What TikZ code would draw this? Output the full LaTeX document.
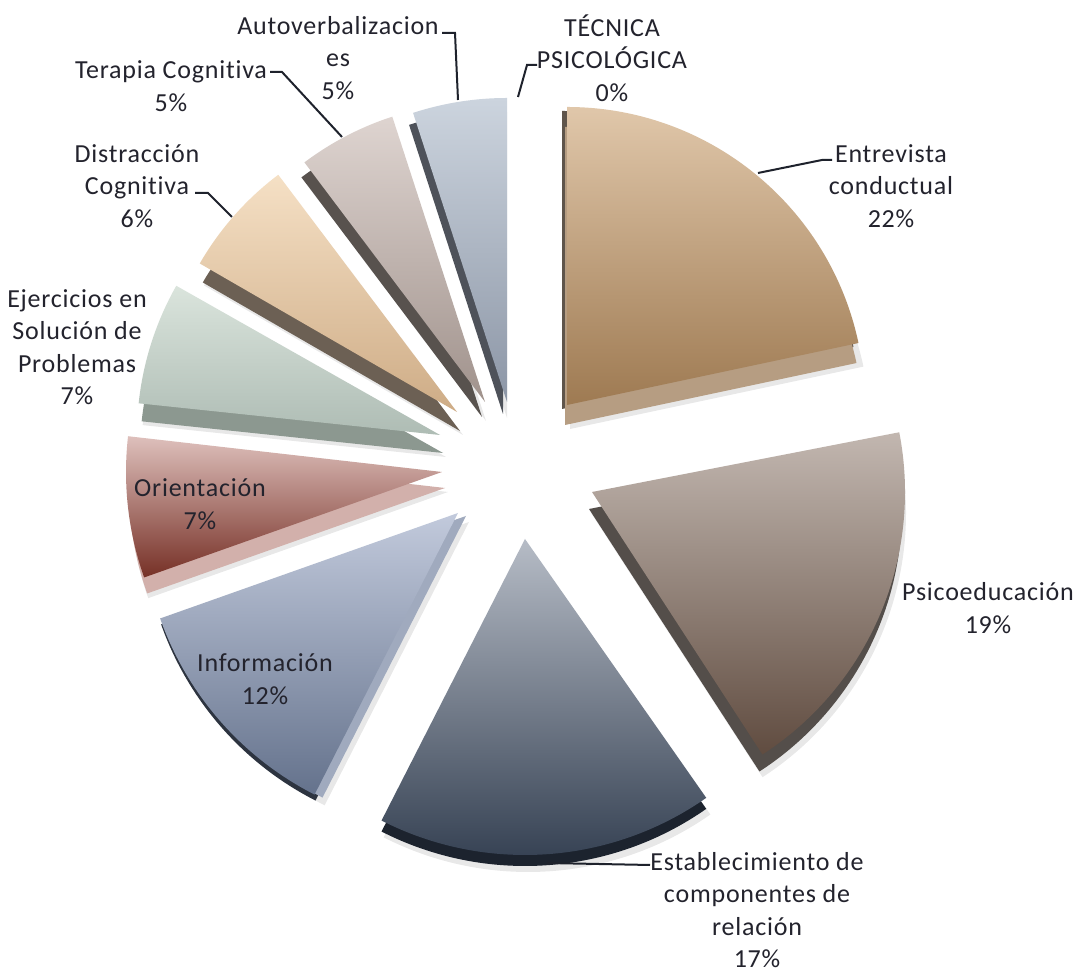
\documentclass[tikz,border=0pt]{standalone}
\usepackage{fontspec}
\setmainfont{Carlito}[Ligatures=NoCommon, LetterSpace=3]
\definecolor{txt}{RGB}{35,35,45}
\definecolor{ldr}{RGB}{30,34,44}
% Entrevista
\definecolor{enS}{RGB}{182,157,130}\definecolor{enD}{RGB}{95,85,75}
\definecolor{enT}{RGB}{224,199,170}\definecolor{enB}{RGB}{158,122,82}
% Psicoeducacion
\definecolor{psS}{RGB}{84,78,74}\definecolor{psT}{RGB}{194,183,176}\definecolor{psB}{RGB}{96,76,64}
% Establecimiento
\definecolor{esS}{RGB}{28,35,46}\definecolor{esT}{RGB}{182,188,198}\definecolor{esB}{RGB}{48,60,78}
% Informacion
\definecolor{inD}{RGB}{45,52,64}\definecolor{inS}{RGB}{160,170,190}
\definecolor{inT}{RGB}{194,202,220}\definecolor{inB}{RGB}{100,114,140}
% Orientacion
\definecolor{orS}{RGB}{210,176,171}\definecolor{orT}{RGB}{222,192,188}
\definecolor{orM}{RGB}{188,138,130}\definecolor{orB}{RGB}{118,48,38}
% Ejercicios
\definecolor{ejS}{RGB}{140,152,144}\definecolor{ejT}{RGB}{218,228,220}\definecolor{ejB}{RGB}{174,188,180}
% Distraccion
\definecolor{diS}{RGB}{108,96,84}\definecolor{diT}{RGB}{245,224,197}\definecolor{diB}{RGB}{206,172,134}
% Terapia
\definecolor{teS}{RGB}{88,82,78}\definecolor{teT}{RGB}{222,212,208}\definecolor{teB}{RGB}{160,146,140}
% Autoverbalizaciones
\definecolor{auS}{RGB}{78,82,90}\definecolor{auT}{RGB}{204,212,222}\definecolor{auB}{RGB}{140,150,166}
\newcommand\pslice[5]{(#1,#2) -- ++(#4:#3) arc[start angle=#4, end angle=#5, radius=#3] -- cycle}
\tikzset{
  lbl/.style={font=\fontsize{19.5}{24.3}\selectfont, text=txt, align=center, inner sep=0pt},
  leader/.style={draw=ldr, line width=1.5pt},
  shadowfill/.style={fill=black, opacity=0.09},
}
\begin{document}
\begin{tikzpicture}[x=0.75pt,y=0.75pt]
\fill[white] (0,0) rectangle (1075,973);
\useasboundingbox (0,0) rectangle (1075,973);

% soft shadows
\fill[shadowfill, shift={(3,-24)}] \pslice{567}{568}{300}{90}{12};
\fill[shadowfill, shift={(-1,-21)}] \pslice{592}{481}{315}{11}{-57};
\fill[shadowfill, shift={(3,-15)}] \pslice{525}{434}{318}{-55}{-117};
\fill[shadowfill, shift={(11,-9)}] \pslice{458}{460}{318}{-117}{-160.5};
\fill[shadowfill, shift={(6,-20)}] \pslice{442}{501}{318}{199.5}{173.5};
\fill[shadowfill, shift={(6,-22)}] \pslice{440}{538}{305}{174}{150.5};
\fill[shadowfill, shift={(6,-23)}] \pslice{457}{561}{299}{150}{127};
\fill[shadowfill, shift={(1,-19)}] \pslice{485}{571}{302}{127}{108};
\fill[shadowfill, shift={(0,-16)}] \pslice{507}{571}{306}{108}{90};

% Entrevista conductual
\fill[enD, shift={(-5,-4)}] \pslice{567}{568}{298}{90}{12};
\fill[enS, shift={(-2,-20)}] \pslice{567}{568}{298}{90}{12};
\shade[top color=enT, bottom color=enB] \pslice{567}{568}{298}{90}{12};
% Psicoeducacion
\fill[psS, shift={(-3,-17)}] \pslice{592}{481}{313}{11}{-57};
\shade[top color=psT, bottom color=psB] \pslice{592}{481}{313}{11}{-57};
% Establecimiento
\fill[esS, shift={(0,-11)}] \pslice{525}{434}{316}{-55}{-117};
\shade[top color=esT, bottom color=esB] \pslice{525}{434}{316}{-55}{-117};
% Informacion
\fill[inD, shift={(1,-6)}] \pslice{458}{460}{316}{-117}{-160.5};
\fill[inS, shift={(8,-3)}] \pslice{458}{460}{316}{-117}{-160.5};
\shade[top color=inT, bottom color=inB] \pslice{458}{460}{316}{-117}{-160.5};
% Orientacion
\fill[orS, shift={(3,-16)}] \pslice{442}{501}{316}{199.5}{173.5};
\shade[top color=orT, middle color=orM, bottom color=orB] \pslice{442}{501}{316}{199.5}{173.5};
% Ejercicios
\fill[ejS, shift={(3,-18)}] \pslice{440}{538}{303}{174}{150.5};
\shade[top color=ejT, bottom color=ejB] \pslice{440}{538}{303}{174}{150.5};
% Distraccion
\fill[diS, shift={(3,-19)}] \pslice{457}{561}{297}{150}{127};
\shade[top color=diT, bottom color=diB] \pslice{457}{561}{297}{150}{127};
% Terapia
\fill[teS, shift={(-3,-15)}] \pslice{485}{571}{300}{127}{108};
\shade[top color=teT, bottom color=teB] \pslice{485}{571}{300}{127}{108};
% Autoverbalizaciones
\fill[auS, shift={(-4,-12)}] \pslice{507}{571}{304}{108}{90};
\shade[top color=auT, bottom color=auB] \pslice{507}{571}{304}{108}{90};

% labels
\node[lbl] (tec) at (612,915) {TÉCNICA\\PSICOLÓGICA\\0\%};
\node[lbl] (aut) at (338,915) {Autoverbalizacion\\es\\5\%};
\node[lbl] (ter) at (171,887) {Terapia Cognitiva\\5\%};
\node[lbl] (dis) at (137,787) {Distracción\\Cognitiva\\6\%};
\node[lbl] (eje) at (77,626) {Ejercicios en\\Solución de\\Problemas\\7\%};
\node[lbl] (ori) at (200,469) {Orientación\\7\%};
\node[lbl] (inf) at (265,294) {Información\\12\%};
\node[lbl] (psi) at (988,365) {Psicoeducación\\19\%};
\node[lbl] (est) at (757,63) {Establecimiento de\\componentes de\\relación\\17\%};
\node[lbl] (ent) at (891,787) {Entrevista\\conductual\\22\%};

% leader lines
\coordinate (tecA) at (518,876); \coordinate (tecB) at (527,908); \coordinate (tecC) at (537,908);
\coordinate (autA) at (458,873); \coordinate (autB) at (455,940); \coordinate (autC) at (442,940);
\coordinate (terA) at (342,836); \coordinate (terB) at (282,901); \coordinate (terC) at (270,901);
\coordinate (disA) at (232,756); \coordinate (disB) at (208,780); \coordinate (disC) at (195,780);
\coordinate (entA) at (758,800); \coordinate (entB) at (822,813); \coordinate (entC) at (832,813);
\coordinate (estA) at (547,110); \coordinate (estC) at (650,108);
\draw[leader] (tecA) -- (tecB) -- (tecC);
\draw[leader] (autA) -- (autB) -- (autC);
\draw[leader] (terA) -- (terB) -- (terC);
\draw[leader] (disA) -- (disB) -- (disC);
\draw[leader] (entA) -- (entB) -- (entC);
\draw[leader] (estA) -- (estC);
\end{tikzpicture}
\end{document}
